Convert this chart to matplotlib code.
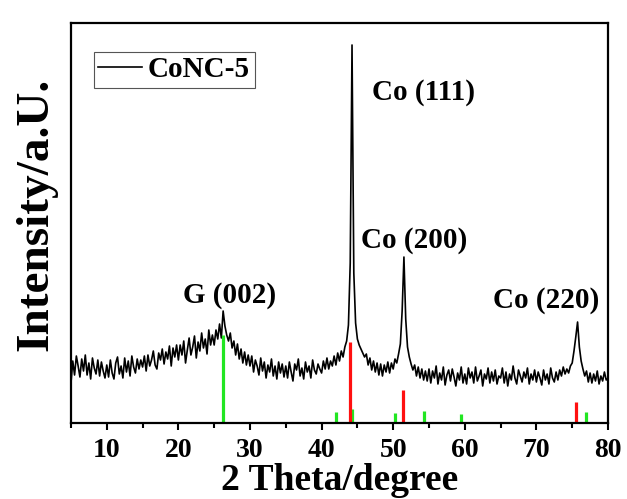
import numpy as np
import matplotlib
matplotlib.use("Agg")
import matplotlib.pyplot as plt
from matplotlib.ticker import MultipleLocator

plt.rcParams['font.family'] = ['Liberation Serif', 'DejaVu Serif']
plt.rcParams['font.weight'] = 'bold'

# XRD pattern (0.25 degree steps, 5..80)
theta = np.arange(5.0, 80.01, 0.25)
intensity = [
    40, 62, 48, 67, 57, 46, 64, 52, 68, 48, 60, 44, 65, 55, 49, 63, 47, 61, 52, 45,
    58, 46, 63, 50, 44, 60, 66, 49, 57, 45, 65, 51, 62, 47, 67, 56, 50, 64, 54, 63,
    56, 67, 52, 68, 57, 63, 72, 58, 54, 70, 63, 74, 59, 71, 64, 77, 57, 75, 66, 78,
    63, 78, 68, 82, 60, 73, 85, 68, 76, 87, 65, 81, 72, 90, 75, 84, 69, 93, 78, 88,
    78, 93, 84, 99, 85, 112, 97, 88, 82, 90, 75, 82, 68, 79, 64, 74, 60, 71, 58, 68,
    57, 67, 51, 63, 57, 48, 65, 52, 61, 45, 58, 51, 64, 47, 57, 44, 61, 50, 59, 46,
    57, 45, 61, 51, 42, 59, 53, 64, 47, 55, 44, 61, 51, 57, 45, 63, 53, 49, 59, 54,
    50, 62, 54, 65, 54, 62, 57, 67, 58, 70, 62, 72, 66, 76, 82, 98, 160, 378, 150, 100,
    84, 78, 74, 70, 66, 69, 58, 65, 53, 62, 51, 60, 48, 59, 47, 58, 51, 61, 50, 60,
    54, 64, 60, 69, 79, 112, 166, 104, 76, 66, 59, 53, 58, 47, 56, 45, 54, 43, 52, 42,
    54, 40, 52, 45, 57, 39, 50, 43, 56, 38, 48, 53, 42, 54, 46, 37, 50, 43, 56, 40,
    49, 39, 55, 45, 51, 40, 56, 42, 47, 53, 37, 49, 44, 55, 40, 51, 42, 53, 39, 47,
    45, 55, 40, 51, 37, 49, 43, 57, 45, 39, 53, 47, 41, 51, 45, 55, 39, 49, 43, 53,
    41, 51, 45, 38, 53, 43, 49, 39, 55, 45, 41, 51, 43, 53, 47, 56, 49, 54, 50, 57,
    60, 72, 86, 101, 76, 62, 54, 47, 52, 41, 50, 40, 49, 42, 52, 39, 47, 42, 51, 43,
    45,
]

# reference patterns (stick lines)
co_pos = [44.0, 51.3, 75.5]
co_height = [81, 33, 21]
g_pos = [26.3, 42.0, 44.2, 50.3, 54.3, 59.5, 76.9]
g_height = [88, 11, 14, 10, 12, 9, 11]

peak_labels = ["G (002)", "Co (111)", "Co (200)", "Co (220)"]
label_x = [27.2, 54.2, 52.9, 71.4]
label_y = [128, 331, 183, 123]

fig = plt.figure(figsize=(6.27, 4.99), dpi=100)
ax = fig.add_axes([0.1132, 0.1523, 0.8565, 0.8016])

ax.plot(theta, intensity, color='black', lw=1.2, label='CoNC-5')
ax.vlines(g_pos, 0, g_height, color='#22e622', lw=2.3)
ax.vlines(co_pos, 0, co_height, color='#ff1010', lw=2.3)

for txt, x, y in zip(peak_labels, label_x, label_y):
    ax.text(x, y, txt, fontsize=21, fontweight='bold', ha='center', va='center')

ax.set_xlim(5, 80)
ax.set_ylim(0, 400)
ax.set_yticks([])
ax.xaxis.set_major_locator(MultipleLocator(10))
ax.xaxis.set_minor_locator(MultipleLocator(5))
ax.tick_params(axis='x', which='major', direction='out', length=5, width=1.5,
               labelsize=20, pad=6)
ax.tick_params(axis='x', which='minor', direction='out', length=3.5, width=1.5)
for s in ax.spines.values():
    s.set_linewidth(1.6)

ax.set_xlabel('2 Theta/degree', fontsize=27, fontweight='bold', labelpad=0)
ax.set_ylabel('Intensity/a.U.', fontsize=34, fontweight='bold', labelpad=10)
ax.yaxis.label.set_y(0.5225)

leg = ax.legend(loc='upper left', bbox_to_anchor=(0.043, 0.9275), borderaxespad=0,
                fontsize=21, handlelength=1.5, handletextpad=0.2, borderpad=0.15,
                fancybox=False, framealpha=1, edgecolor='#555555')
leg.get_frame().set_linewidth(0.8)
for line in leg.get_lines():
    line.set_linewidth(1.2)

fig.savefig('out.png', dpi=100)
